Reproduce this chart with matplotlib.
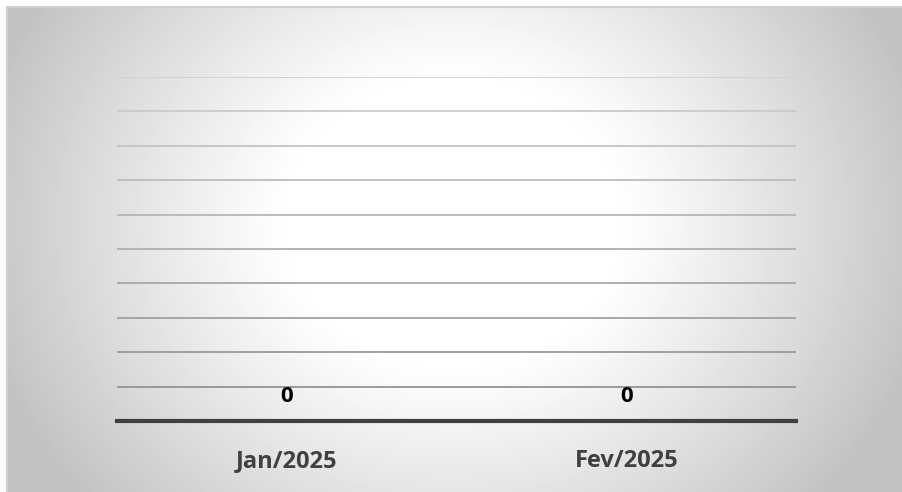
import numpy as np
import matplotlib
matplotlib.use("Agg")
import matplotlib.pyplot as plt

categories = ["Jan/2025", "Fev/2025"]
values = [0, 0]
y_ticks = list(range(0, 11))

plt.rcParams['font.family'] = ['Open Sans', 'DejaVu Sans']

W, H = 903, 492
fig = plt.figure(figsize=(W / 100, H / 100), dpi=100)
fig.patch.set_facecolor("white")

# radial gray background, white in the middle
bg = fig.add_axes([7 / W, 0, 1 - 7 / W, 1 - 7 / H])
yy, xx = np.mgrid[0:485, 0:896]
r = np.hypot((xx - 445) / 1.15, (yy - 215)) / 470
shade = 1 - 0.24 * np.clip((r - 0.3) / 0.6, 0, 1) ** 1.1
shade = np.clip(shade, 0.76, 1)
bg.imshow(shade, cmap="gray", vmin=0, vmax=1, aspect="auto", interpolation="bilinear")
bg.set_xticks([])
bg.set_yticks([])
for side in ["right", "bottom"]:
    bg.spines[side].set_visible(False)
for side in ["left", "top"]:
    bg.spines[side].set_color("#d0d0d0")
    bg.spines[side].set_linewidth(1.5)

ax = fig.add_axes([117 / W, 1 - 421 / H, (796 - 117) / W, (421 - 77) / H])
ax.patch.set_alpha(0)
x = np.arange(len(categories))
bars = ax.bar(x, values, width=0.5, color="#4472c4")
ax.set_xlim(-0.5, len(categories) - 0.5)
ax.set_ylim(0, 10)
ax.set_yticks(y_ticks)
ax.set_yticklabels([])
ax.tick_params(axis="y", length=0)
ax.grid(axis="y", linewidth=1.3)
ax.set_axisbelow(True)
gl = ax.get_ygridlines()
for i, line in enumerate(gl):
    t = i / (len(gl) - 1)
    c = 0.55 + (0.82 - 0.55) * t
    line.set_color((c, c, c))
for side in ["left", "right", "top"]:
    ax.spines[side].set_visible(False)
ax.spines["bottom"].set_color("#404040")
ax.spines["bottom"].set_linewidth(3)

ax.set_xticks(x)
ax.set_xticklabels(categories, fontsize=17, fontweight="bold", color="#404040")
ax.tick_params(axis="x", length=0, pad=20)

for xi, v in zip(x, values):
    ax.annotate(str(v), (xi, v), xytext=(0, 18), textcoords="offset points",
                ha="center", va="center", fontsize=16, fontweight="bold", color="black")

fig.savefig("out.png", dpi=100)
